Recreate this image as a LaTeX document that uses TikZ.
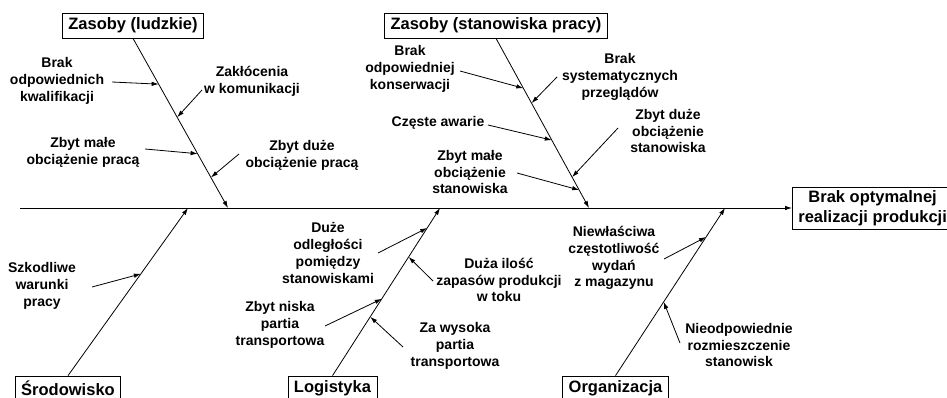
\documentclass[tikz,border=0pt]{standalone}
\usepackage{fontspec}
\setmainfont{Liberation Sans}
\usetikzlibrary{arrows.meta}

\begin{document}
\begin{tikzpicture}[x=1pt, y=-1pt, line width=.8pt, >={Latex[length=7pt,width=4.5pt]},
  kat/.style={draw, line width=.7pt, inner xsep=6pt, minimum height=25pt, font=\fontsize{16.5}{20}\selectfont\bfseries},
  prz/.style={align=center, inner sep=1pt, font=\fontsize{14}{16.8}\selectfont\bfseries}]
\useasboundingbox (0,0) rectangle (947,398);
\node[kat] (zl) at (133,25.5) {Zasoby (ludzkie)};
\node[kat] (zs) at (496,25.5) {Zasoby (stanowiska pracy)};
\node[kat] (sr) at (68,388.5) {Środowisko};
\node[kat] (lo) at (332.5,388.5) {Logistyka};
\node[kat] (or) at (615.5,388.5) {Organizacja};
\node[kat, align=center, anchor=west] (sk) at (792,208) {Brak optymalnej\\realizacji produkcji};
\coordinate (p) at (20,208);
\coordinate (a) at (228,208);
\coordinate (b) at (589,208);
\coordinate (c) at (188,208);
\coordinate (d) at (440,208);
\coordinate (e) at (725,208);
\draw[->] (p) -- (sk);
\draw[->] (zl.south) -- (a);
\draw[->] (zs.south) -- (b);
\draw[->] (sr.north) -- (c);
\draw[->] (lo.north) -- (d);
\draw[->] (or.north) -- (e);
\path (zl.south) -- (a) coordinate[pos=.27] (a1) coordinate[pos=.465] (a2) coordinate[pos=.68] (a3) coordinate[pos=.82] (a4);
\path (zs.south) -- (b) coordinate[pos=.294] (b1) coordinate[pos=.382] (b2) coordinate[pos=.6] (b3) coordinate[pos=.818] (b4) coordinate[pos=.894] (b5);
\path (sr.north) -- (c) coordinate[pos=.607] (c1);
\path (lo.north) -- (d) coordinate[pos=.881] (d1) coordinate[pos=.708] (d2) coordinate[pos=.458] (d3) coordinate[pos=.351] (d4);
\path (or.north) -- (e) coordinate[pos=.827] (e1) coordinate[pos=.44] (e2);
\node[prz] (kw) at (57,81) {Brak\\odpowiednich\\kwalifikacji};
\node[prz] (ko) at (252,81.5) {Zakłócenia\\w komunikacji};
\node[prz] (mp) at (83,152) {Zbyt małe\\obciążenie pracą};
\node[prz] (dp) at (302,155) {Zbyt duże\\obciążenie pracą};
\node[prz] (kn) at (410,69) {Brak\\odpowiedniej\\konserwacji};
\node[prz] (pr) at (620,77) {Brak\\systematycznych\\przeglądów};
\node[prz] (aw) at (438,123) {Częste awarie};
\node[prz] (ds) at (668,131) {Zbyt duże\\obciążenie\\stanowiska};
\node[prz] (ms) at (470,172) {Zbyt małe\\obciążenie\\stanowiska};
\node[prz] (sz) at (42,286) {Szkodliwe\\warunki\\pracy};
\node[prz] (od) at (328,253) {Duże\\odległości\\pomiędzy\\stanowiskami};
\node[prz] (za) at (499,280) {Duża ilość\\zapasów produkcji\\w toku};
\node[prz] (ni) at (280,325) {Zbyt niska\\partia\\transportowa};
\node[prz] (wy) at (455,346) {Za wysoka\\partia\\transportowa};
\node[prz] (cz) at (614,258) {Niewłaściwa\\częstotliwość\\wydań\\z magazynu};
\node[prz] (ro) at (739,345) {Nieodpowiednie\\rozmieszczenie\\stanowisk};
\coordinate (kwt) at (112,82);
\coordinate (kot) at (202,90);
\coordinate (mpt) at (145,149);
\coordinate (dpt) at (239,154);
\coordinate (knt) at (460,71);
\coordinate (prt) at (557,77);
\coordinate (awt) at (488,125);
\coordinate (dst) at (618,128);
\coordinate (mst) at (517,173);
\coordinate (szt) at (92,287);
\coordinate (odt) at (378,253);
\coordinate (zat) at (433,281);
\coordinate (nit) at (325,326);
\coordinate (wyt) at (403,347);
\coordinate (czt) at (664,259);
\coordinate (rot) at (680,343);
\draw[->] (kwt) -- (a1);
\draw[->] (kot) -- (a2);
\draw[->] (mpt) -- (a3);
\draw[->] (dpt) -- (a4);
\draw[->] (knt) -- (b1);
\draw[->] (prt) -- (b2);
\draw[->] (awt) -- (b3);
\draw[->] (dst) -- (b4);
\draw[->] (mst) -- (b5);
\draw[->] (szt) -- (c1);
\draw[->] (odt) -- (d1);
\draw[->] (zat) -- (d2);
\draw[->] (nit) -- (d3);
\draw[->] (wyt) -- (d4);
\draw[->] (czt) -- (e1);
\draw[->] (rot) -- (e2);
\end{tikzpicture}
\end{document}
